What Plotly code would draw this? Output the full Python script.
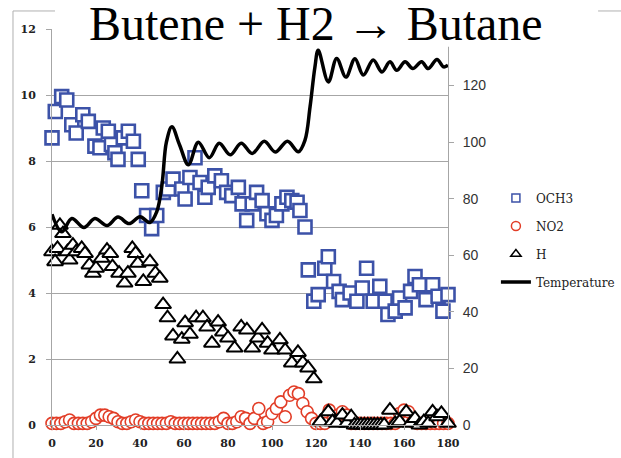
import plotly.graph_objects as go

# OCH3 signal (left axis)
och3_x = [0, 1.5, 4.4, 6.7, 9, 11, 14, 16.5, 19.5, 21.8, 23.3, 25.6, 27, 28.6, 30, 32.4,
          34.7, 37, 39.2, 40.8, 43, 45.3, 47.6, 50.6, 52.9, 55, 59, 60.5, 62.7, 65, 67.3,
          69.5, 71, 74, 77, 79.4, 81.7, 84.7, 86.4, 88.5, 91, 93, 95.5, 97.7, 100, 102,
          104.5, 106.8, 109, 111.4, 112.7, 115, 116.5, 119, 121, 124, 125.6, 128, 130.5,
          132, 135.5, 138.6, 141, 143, 146, 149, 151.4, 152.7, 156, 158, 160.5, 163, 165,
          167, 170, 173, 175.5, 177.7, 180]
och3_y = [8.7, 9.5, 9.95, 9.85, 9.1, 8.85, 9.4, 9.2, 8.45, 8.4, 9.0, 8.9, 8.5, 8.25, 8.05, 8.7,
          8.9, 8.6, 8.05, 7.1, 6.35, 5.95, 6.35, 7.05, 7.15, 7.45, 7.15, 6.85, 7.5, 8.1, 7.35,
          6.9, 7.2, 7.55, 7.4, 7.05, 6.95, 7.2, 6.7, 6.2, 6.7, 7.05, 6.8, 6.4, 6.2, 6.35,
          6.7, 6.9, 6.8, 6.75, 6.5, 6.0, 4.7, 3.75, 3.95, 4.75, 5.1, 4.35, 4.05,
          3.8, 4.0, 3.75, 4.15, 4.75, 3.75, 4.2, 3.75, 3.35, 3.45, 3.85, 3.55, 4.05, 4.5,
          4.25, 3.8, 4.25, 3.9, 3.45, 3.95]

# NO2 signal (left axis), sampled every 2 min
no2_x = list(range(0, 181, 2))
no2_y = [0.05, 0.05, 0.05, 0.1, 0.15, 0.05, 0.05, 0.05, 0.05, 0.1,
         0.2, 0.3, 0.3, 0.25, 0.2, 0.1, 0.05, 0.05, 0.1, 0.15,
         0.1, 0.05, 0.05, 0.05, 0.05, 0.05, 0.05, 0.1, 0.05, 0.05,
         0.05, 0.05, 0.05, 0.05, 0.05, 0.05, 0.05, 0.05, 0.1, 0.2,
         0.05, 0.05, 0.1, 0.25, 0.2, 0.05, 0.2, 0.5, 0.05, 0.1,
         0.35, 0.5, 0.7, 0.25, 0.9, 1.0, 0.95, 0.65, 0.4, 0.2,
         0.05, 0.05, 0.05, 0.45, 0.2, 0.3, 0.4, 0.3, 0.05, 0.05,
         0.05, 0.05, 0.05, 0.05, 0.05, 0.05, 0.05, 0.05, 0.05, 0.35,
         0.45, 0.4, 0.1, 0.05, 0.05, 0.05, 0.05, 0.05, 0.05, 0.05,
         0.05]

# H signal (left axis)
h_x = [0, 1.4, 2.5, 3.6, 5, 7, 8, 9.5, 11, 13.5, 15, 17, 18.6, 20, 22.5, 25, 26.5, 27.5,
       30.5, 33, 34.5, 36.5, 38, 39, 41.5, 44.5, 47, 49,
       50.5, 52.5, 55, 57, 59, 60.5, 62.7, 65.5, 68.6, 70.5, 72.7, 75.5, 77.7, 80, 83,
       86, 88.6, 91, 93.6, 95.5, 98, 100, 103.6, 106, 109, 111.8, 114, 116.4, 119,
       122, 125.6, 127.5, 129.5, 132, 134, 136, 137.5, 139, 140.5, 142, 143.5, 145,
       146.5, 148, 149.5, 151, 153.6, 156, 158, 161, 163, 165, 167, 169, 171, 173,
       175, 177, 180]
h_y = [5.25, 4.95, 5.35, 6.05, 5.8, 5.25, 5.0, 5.45, 5.25, 5.35, 5.2, 4.85, 4.6, 4.75,
       5.05, 5.3, 5.2, 4.8, 4.6, 4.3, 4.6, 5.35, 5.2, 4.9, 4.35, 4.95, 4.6, 4.45,
       3.65, 3.25, 2.7, 2.0, 2.6, 3.1, 2.75, 3.25, 3.25, 2.97, 2.48, 3.12, 2.82, 2.64,
       2.33, 2.97, 2.88, 2.33, 2.64, 2.88, 2.48, 2.27, 2.58, 2.27, 1.88, 2.2, 1.88,
       1.73, 1.4,
       0.1, 0.4, 0.1, 0.05, 0.3, 0.05, 0.25, 0.0, 0.0, 0.0, 0.0, 0.0, 0.0,
       0.0, 0.0, 0.0, 0.0, 0.45, 0.05, 0.1, 0.4, 0.05, 0.2, 0.0, 0.1, 0.05, 0.4,
       0.25, 0.35, 0.05]

# Reactor temperature (right axis)
temp_x = [0, 4.4, 9, 14.5, 19.5, 25, 30, 35, 40, 44.5, 47.6, 50, 52, 54.5, 58, 62, 66.5,
          71.5, 76, 81, 86, 91, 96.5, 101.5, 107, 112, 115, 117.3, 119.5, 121, 125.6,
          129.4, 133.6, 137.7, 141.5, 146, 150, 153.6, 156.7, 160.5, 164, 168, 171, 175,
          178, 180]
temp_y = [74.5, 68.3, 73, 69.8, 73, 70.5, 73.5, 71.2, 73.6, 71.6, 75.4, 85, 100, 105.4,
          99, 92, 100, 94.5, 99.6, 95.5, 99.6, 96, 100.3, 96.5, 100.3, 96.6, 100.7, 112.5,
          126.5, 132.5, 121.3, 129.6, 123, 129.5, 123.7, 129, 124.8, 128.4, 125.4, 128.4,
          126, 128.4, 126, 129.2, 126.6, 127.2]

left_ticks = [0, 2, 4, 6, 8, 10, 12]
right_ticks = [0, 20, 40, 60, 80, 100, 120]
x_ticks = [0, 20, 40, 60, 80, 100, 120, 140, 160, 180]

BLUE = "#3C52A8"
RED = "#E23D27"
GRID = "#A6A6A6"

fig = go.Figure()

# data markers (no legend entries; small legend swatches are added below)
fig.add_trace(go.Scatter(x=och3_x, y=och3_y, mode="markers", showlegend=False, cliponaxis=False,
                         marker=dict(symbol="square", size=13, color="white",
                                     line=dict(color=BLUE, width=2.6))))
fig.add_trace(go.Scatter(x=no2_x, y=no2_y, mode="markers", showlegend=False, cliponaxis=False,
                         marker=dict(symbol="circle", size=12, color="white",
                                     line=dict(color=RED, width=1.6))))
fig.add_trace(go.Scatter(x=h_x, y=h_y, mode="markers", showlegend=False, cliponaxis=False,
                         marker=dict(symbol="triangle-up", size=14, color="white",
                                     line=dict(color="black", width=2))))

# legend swatches
fig.add_trace(go.Scatter(x=[None], y=[None], mode="markers", name="OCH3", legendgroup="a",
                         marker=dict(symbol="square", size=8, color="white",
                                     line=dict(color=BLUE, width=1.5))))
fig.add_trace(go.Scatter(x=[None], y=[None], mode="markers", name="NO2", legendgroup="b",
                         marker=dict(symbol="circle", size=9, color="white",
                                     line=dict(color=RED, width=1.5))))
fig.add_trace(go.Scatter(x=[None], y=[None], mode="markers", name="H", legendgroup="c",
                         marker=dict(symbol="triangle-up", size=9, color="white",
                                     line=dict(color="black", width=1.5))))

fig.add_trace(go.Scatter(x=temp_x, y=temp_y, mode="lines", name="Temperature", legendgroup="d",
                         yaxis="y2", line=dict(color="black", width=3.5, shape="spline")))

fig.update_layout(
    width=621, height=458,
    margin=dict(l=52, r=173, t=29, b=33, autoexpand=False),
    paper_bgcolor="white", plot_bgcolor="white",
    xaxis=dict(range=[0, 180], tickvals=x_ticks, showgrid=False, zeroline=False,
               showline=True, linecolor=GRID, linewidth=1, ticks="outside", ticklen=4,
               tickcolor=GRID, ticklabelstandoff=4, automargin=False,
               tickfont=dict(family="DejaVu Serif", size=11, color="#222", weight="bold")),
    yaxis=dict(range=[0, 12], tickvals=left_ticks, showgrid=True, gridcolor=GRID, gridwidth=1,
               zeroline=False, showline=True, linecolor=GRID, linewidth=1, ticks="outside",
               ticklen=5, tickcolor=GRID, ticklabelstandoff=8, automargin=False,
               tickfont=dict(family="DejaVu Serif", size=11, color="#222", weight="bold")),
    yaxis2=dict(range=[0, 140], tickvals=right_ticks, overlaying="y", side="right",
                showgrid=False, zeroline=False, showline=True, linecolor=GRID, linewidth=1,
                ticks="outside", ticklen=5, tickcolor=GRID, ticklabelstandoff=6,
                automargin=False,
                tickfont=dict(family="Liberation Sans", size=14, color="#333")),
    legend=dict(x=1.121, y=0.61, xanchor="left", yanchor="top", traceorder="grouped",
                tracegroupgap=9, itemwidth=30, bgcolor="rgba(0,0,0,0)",
                font=dict(family="DejaVu Serif", size=12, color="#222")),
    shapes=[
        # chart frame
        dict(type="rect", xref="paper", yref="paper", x0=-0.0985, x1=1.6, y0=-0.2, y1=1.0455,
             line=dict(color="#B0B0B0", width=1), fillcolor="rgba(0,0,0,0)", layer="below"),
        # title backdrop
        dict(type="rect", xref="paper", yref="paper", x0=0.0076, x1=1.379, y0=0.955, y1=1.1,
             line=dict(width=0), fillcolor="white", layer="above"),
    ],
    annotations=[
        dict(text="Butene + H2 \u2192 Butane", xref="paper", yref="paper", x=0.666, y=1.013,
             xanchor="center", yanchor="middle", showarrow=False, borderpad=0,
             font=dict(family="Liberation Serif", size=48, color="black")),
    ],
)

fig.write_html("out.html")
